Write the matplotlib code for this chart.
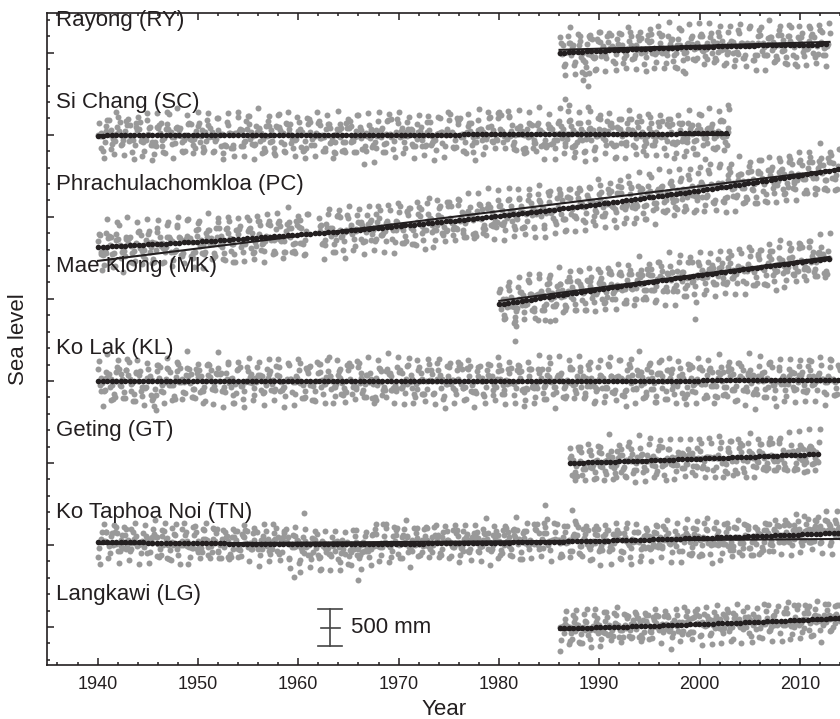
import matplotlib
matplotlib.use("Agg")
import matplotlib.pyplot as plt
from matplotlib.ticker import MultipleLocator
import numpy as np

plt.rcParams["font.family"] = ["Liberation Sans", "DejaVu Sans"]

GRAY = "#999999"
INK = "#231f20"
GAP = 1100  # vertical offset between stations (mm)

# station names, top to bottom
names = ["Rayong (RY)", "Si Chang (SC)", "Phrachulachomkloa (PC)", "Mae Klong (MK)",
         "Ko Lak (KL)", "Geting (GT)", "Ko Taphoa Noi (TN)", "Langkawi (LG)"]

# first year of each record
first_year = [1986, 1940, 1940, 1980, 1940, 1987, 1940, 1986]

# annual mean sea level (mm, relative to the station offset)
ry_annual = [20, 40, -10, 50,
             60, 45, 55, 70, 60, 75, 80, 50, 65, 100,
             95, 90, 80, 85, 90, 75, 95, 100, 110, 95,
             105, 130, 120]
sc_annual = [-20, 10, 30, -10, 0, -40, 20, 40, -30, 10,
             0, 20, -50, -10, 30, 10, -20, 0, 40, -10,
             -30, 20, 10, -40, 0, 30, -60, -20, 10, 40,
             20, -10, 0, -30, 30, 50, 10, -20, 40, 60,
             80, 20, -10, 30, -40, 0, 40, 20, -30, 10,
             50, -20, 0, 30, -10, 20, 40, -30, 10, 0,
             30, 20, 50]
pc_annual = [-400, -395, -370, -400, -365, -380, -350, -365, -330, -345,
             -335, -315, -300, -320, -290, -275, -280, -250, -260, -240,
             -230, np.nan, -205, -210, -185, -170, -175, -150, -140, -135,
             -110, -115, -85, -80, -70, -45, -40, -30, 5, 0,
             25, 45, 45, 70, 85, 95, 110, 135, 140, 170,
             180, 195, 220, 230, 245, 275, 285, 300, 330, 340,
             370, 380, 395, 430, 440, 460, 490, 500, 520, 550,
             565, 595, 610, 640]
mk_annual = [-40, -60, 20, 20, 40, 60, 80, 110, 120, 130,
             150, 170, 180, 200, 230, 240, 260, 270, 290, 310,
             330, 350, 370, 380, 400, 420, 440, 450, 470, 490,
             510, 530, 550]
kl_annual = [10, -20, 30, 0, -30, -50, 20, -10, 40, 0,
             -20, 30, 10, -40, 0, 20, -10, 30, -30, 10,
             0, -20, 40, 10, -30, 20, 0, -40, 30, -10,
             20, -10, 0, 30, -20, 10, 40, -30, 0, 20,
             -10, 30, -40, 10, 20, 0, -20, 30, 10, -30,
             0, 20, -10, 40, 10, -20, 30, 0, -30, 20,
             10, -10, 30, 0, 20, -20, 40, 10, 0, 30,
             20, 50, 10, 40]
gt_annual = [-10, 10, 0,
             20, 10, 30, 20, 40, 30, 50, 30, 60, 50,
             60, 70, 50, 80, 70, 90, 80, 100, 90, 110,
             100, 120]
tn_annual = [30, 40, 10, 20, 0, 30, 10, -10, 20, 0,
             10, 20, -20, 0, 30, 10, -10, 20, 0, -40,
             -80, -60, -100, -70, -90, -60, -80, 0, 20, 10,
             30, 0, 20, 40, 10, 30, 0, 20, 40, 10,
             30, 60, 20, 50, 80, 40, 20, 60, 30, 10,
             20, 40, 10, 30, 0, 40, 60, 20, 50, 40,
             60, 30, 50, 40, 70, 20, 90, 100, 110, 130,
             140, 150, 170, 160]
lg_annual = [-60, -30, -50, -20,
             -30, -10, -20, 0, -10, 10, 0, -30, 20, 30,
             10, 30, 20, 40, 30, 20, 50, 40, 60, 50,
             80, 70, 90, 100]

# mean seasonal cycle, Jan..Dec (mm)
ry_season = [160, 100, 35, -15, -60, -130, -180, -170, -110, 20, 140, 200]
sc_season = [160, 90, 30, -20, -70, -140, -190, -180, -120, 20, 140, 200]
pc_season = [190, 120, 40, -30, -90, -160, -210, -200, -130, 40, 180, 240]
mk_season = [170, 100, 40, -30, -90, -150, -200, -190, -120, 30, 160, 220]
kl_season = [165, 100, 35, -20, -80, -150, -200, -190, -120, 20, 150, 210]
gt_season = [170, 90, 15, -40, -90, -120, -130, -120, -90, 0, 110, 210]
tn_season = [-90, -140, -130, -60, 40, 110, 100, 130, 160, 140, 60, -30]
lg_season = [-70, -130, -110, -40, 40, 100, 90, 110, 140, 130, 40, -20]

# month-to-month departures from annual mean + seasonal cycle (mm), read in order
resid = [35, -120, 80, -15, 140, -60, 10, -145, 95, -30, 60, -90, 150, -5, -110, 45, 120, -70, 20, -155,
         100, -40, 70, -130, 5, 130, -85, 25, -20, 155, -100, 55, -65, 115, -140, 40, -10, 85, -115, 145,
         -50, 15, -95, 65, -160, 110, -25, 30, -75, 125, -135, 0, 90]

# single months far from the rest (decimal year, mm)
ry_odd = [(1988.3, -260), (1988.4, -360), (1988.9, -440), (1989.0, -270), (1998.4, -250)]
sc_odd = [(1986.6, 480), (1987.0, 400), (1988.9, 380), (1993.0, 330), (2002.8, 400), (1987.5, -300)]
pc_odd = []
mk_odd = [(1981.6, -240), (1981.7, -360), (1981.6, -560), (1999.5, -270),
          (1983.9, -280), (1985.1, -300)]
kl_odd = [(1945.8, -390)]
gt_odd = []
tn_odd = [(1960.6, 430), (1984.6, 530), (1987.3, 470), (1959.6, -430), (1966.0, -470)]
lg_odd = []

# linear trend, value at start and end of record (mm)
ry_fit = (40, 147)
sc_fit = (0, 0)
pc_fit = (-590, 643)
mk_fit = (-27, 563)
kl_fit = (0, 0)
gt_fit = (0, 107)
tn_fit = (13, 80)
lg_fit = (-40, 94)

annual = [ry_annual, sc_annual, pc_annual, mk_annual, kl_annual, gt_annual, tn_annual, lg_annual]
season = [ry_season, sc_season, pc_season, mk_season, kl_season, gt_season, tn_season, lg_season]
odd = [ry_odd, sc_odd, pc_odd, mk_odd, kl_odd, gt_odd, tn_odd, lg_odd]
fits = [ry_fit, sc_fit, pc_fit, mk_fit, kl_fit, gt_fit, tn_fit, lg_fit]

fig = plt.figure(figsize=(8.4, 7.19), dpi=100)
ax = fig.add_axes([0.0565, 0.0751, 0.9435, 0.907])

n = len(names)
for i in range(n):
    base = (n - 1 - i) * GAP
    years = np.arange(first_year[i], first_year[i] + len(annual[i]))
    t = (years[:, None] + (np.arange(12)[None, :] + 0.5) / 12).ravel()
    v = (np.array(annual[i], dtype=float)[:, None] + np.array(season[i])[None, :]).ravel()
    # departures, each station entering the sequence at its own place
    v = v + np.take(resid, np.arange(len(v)) + 7 * i, mode="wrap")
    if odd[i]:
        ot, ov = zip(*odd[i])
        t = np.concatenate([t, ot])
        v = np.concatenate([v, ov])
    ok = ~np.isnan(v)
    t, v = t[ok], v[ok]
    ax.plot(t, v + base, "o", ms=4.3, mew=0, color=GRAY, zorder=1)

    # quadratic trend as a beaded line
    coef = np.polyfit(t, v, 2)
    tt = np.arange(t.min(), t.max() + 0.01, 0.45)
    ax.plot(tt, np.polyval(coef, tt) + base, "o", ms=4.0, mew=0, color=INK, zorder=3)

    # linear trend
    ax.plot([t.min(), t.max()], [fits[i][0] + base, fits[i][1] + base],
            "-", lw=1.5, color=INK, zorder=2)

    ax.text(1935.9, base + 430, names[i], fontsize=16, color=INK, va="center", ha="left")

# 500 mm scale bar
bar_x, bar_y = 1963.2, -10
ax.plot([bar_x, bar_x], [bar_y - 250, bar_y + 250], color="#444444", lw=1.2)
for y, hw in [(bar_y - 250, 1.2), (bar_y + 250, 1.2), (bar_y, 0.95)]:
    ax.plot([bar_x - hw, bar_x + hw], [y, y], color="#444444", lw=1.2)
ax.text(1965.3, bar_y, "500 mm", fontsize=16, color=INK, va="center", ha="left")

ax.set_xlim(1935, 2014)
ax.set_ylim(-510, 8236)
ax.xaxis.set_major_locator(MultipleLocator(10))
ax.xaxis.set_minor_locator(MultipleLocator(2))
ax.yaxis.set_major_locator(MultipleLocator(GAP))
ax.yaxis.set_minor_locator(MultipleLocator(GAP / 5))
ax.tick_params(which="both", direction="in", top=True, right=False, color=INK, width=1.1)
ax.tick_params(which="major", length=5)
ax.tick_params(which="minor", length=2.5)
ax.tick_params(axis="x", labelsize=13, labelcolor=INK, pad=8)
ax.set_yticklabels([])
for side in ["left", "bottom", "top"]:
    ax.spines[side].set_linewidth(1.2)
    ax.spines[side].set_color(INK)
ax.spines["right"].set_visible(False)

ax.set_xlabel("Year", fontsize=16, color=INK, labelpad=4)
ax.set_ylabel("Sea level", fontsize=16, color=INK, labelpad=10)

fig.savefig("out.png", dpi=100)
